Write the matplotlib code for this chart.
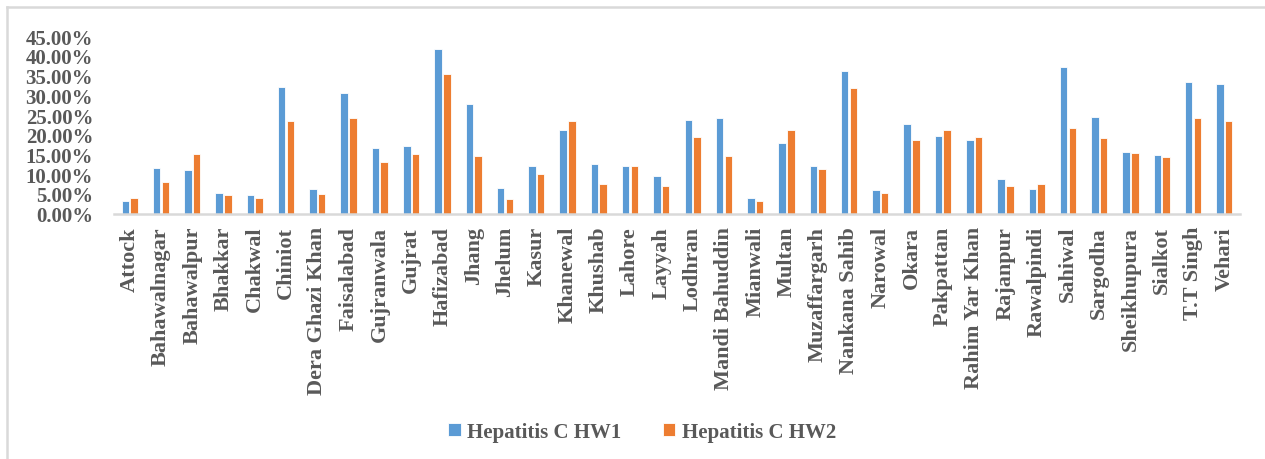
import matplotlib
matplotlib.use("Agg")
import matplotlib.pyplot as plt
import numpy as np
from matplotlib.lines import Line2D
from matplotlib.ticker import FuncFormatter

districts = ["Attock", "Bahawalnagar", "Bahawalpur", "Bhakkar", "Chakwal", "Chiniot",
             "Dera Ghazi Khan", "Faisalabad", "Gujranwala", "Gujrat", "Hafizabad", "Jhang",
             "Jhelum", "Kasur", "Khanewal", "Khushab", "Lahore", "Layyah", "Lodhran",
             "Mandi Bahuddin", "Mianwali", "Multan", "Muzaffargarh", "Nankana Sahib",
             "Narowal", "Okara", "Pakpattan", "Rahim Yar Khan", "Rajanpur", "Rawalpindi",
             "Sahiwal", "Sargodha", "Sheikhupura", "Sialkot", "T.T Singh", "Vehari"]

hw1 = [3.25, 11.55, 11.05, 5.28, 4.70, 32.1, 6.2, 30.7, 16.7, 17.1, 41.8, 27.9,
       6.4, 12.0, 21.3, 12.5, 12.0, 9.5, 23.7, 24.3, 4.0, 17.9, 12.0, 36.1,
       5.9, 22.8, 19.8, 18.6, 8.8, 6.1, 37.3, 24.6, 15.5, 14.9, 33.4, 32.8]
hw2 = [3.86, 8.0, 15.03, 4.70, 3.86, 23.4, 5.0, 24.3, 13.1, 15.0, 35.5, 14.6,
       3.7, 10.1, 23.4, 7.4, 12.0, 7.1, 19.4, 14.6, 3.1, 21.3, 11.3, 31.9,
       5.3, 18.6, 21.3, 19.5, 7.1, 7.4, 21.6, 19.2, 15.3, 14.3, 24.3, 23.4]

series_names = ["Hepatitis C HW1", "Hepatitis C HW2"]
colors = ["#5B9BD5", "#ED7D31"]
text_color = "#595959"
font = "Liberation Serif"

W, H = 1265, 460
fig = plt.figure(figsize=(W / 100, H / 100), dpi=100)

# outer chart frame (top and left edges visible)
fig.add_artist(Line2D([7 / W, 1.0], [1 - 8 / H, 1 - 8 / H], color="#d9d9d9", lw=1.8,
                      transform=fig.transFigure))
fig.add_artist(Line2D([7 / W, 7 / W], [1 - 8 / H, 0.0], color="#d9d9d9", lw=1.8,
                      transform=fig.transFigure))

left, right = 114 / W, 1240 / W
bottom, top = 1 - 214.5 / H, 1 - 37.3 / H
ax = fig.add_axes([left, bottom, right - left, top - bottom])

n = len(districts)
x = np.arange(n)
vals1 = np.array(hw1) / 100
vals2 = np.array(hw2) / 100
bw = 0.24
ax.bar(x - 0.14, vals1, width=bw, color=colors[0], edgecolor="white", linewidth=0.6,
       label=series_names[0], zorder=2)
ax.bar(x + 0.14, vals2, width=bw, color=colors[1], edgecolor="white", linewidth=0.6,
       label=series_names[1], zorder=2)

ax.set_xlim(-0.5, n - 0.5)
ax.set_ylim(0, 0.45)
ax.set_yticks(np.arange(0, 0.4501, 0.05))
ax.yaxis.set_major_formatter(FuncFormatter(lambda v, p: f"{v * 100:.2f}%"))
ax.set_xticks(x)
ax.set_xticklabels(districts, rotation=90, va="top", ha="center")

for s in ["top", "right", "left"]:
    ax.spines[s].set_visible(False)
ax.spines["bottom"].set_color("#d9d9d9")
ax.spines["bottom"].set_linewidth(1.8)
ax.tick_params(axis="both", length=0)
ax.tick_params(axis="y", pad=15)
ax.tick_params(axis="x", pad=9)
for lbl in ax.get_yticklabels():
    lbl.set_fontfamily(font)
    lbl.set_fontweight("bold")
    lbl.set_fontsize(15)
    lbl.set_color(text_color)
for lbl in ax.get_xticklabels():
    lbl.set_fontfamily(font)
    lbl.set_fontweight("bold")
    lbl.set_fontsize(16)
    lbl.set_color(text_color)

handles, labels = ax.get_legend_handles_labels()
leg = fig.legend(handles, labels, loc="center", bbox_to_anchor=(642 / W, 1 - 433 / H),
                 ncol=2, frameon=False, handlelength=0.6, handleheight=0.6,
                 handletextpad=0.3, columnspacing=2.0,
                 prop={"family": font, "weight": "bold", "size": 15})
for t in leg.get_texts():
    t.set_color(text_color)

fig.savefig("out.png", dpi=100, facecolor="white")
